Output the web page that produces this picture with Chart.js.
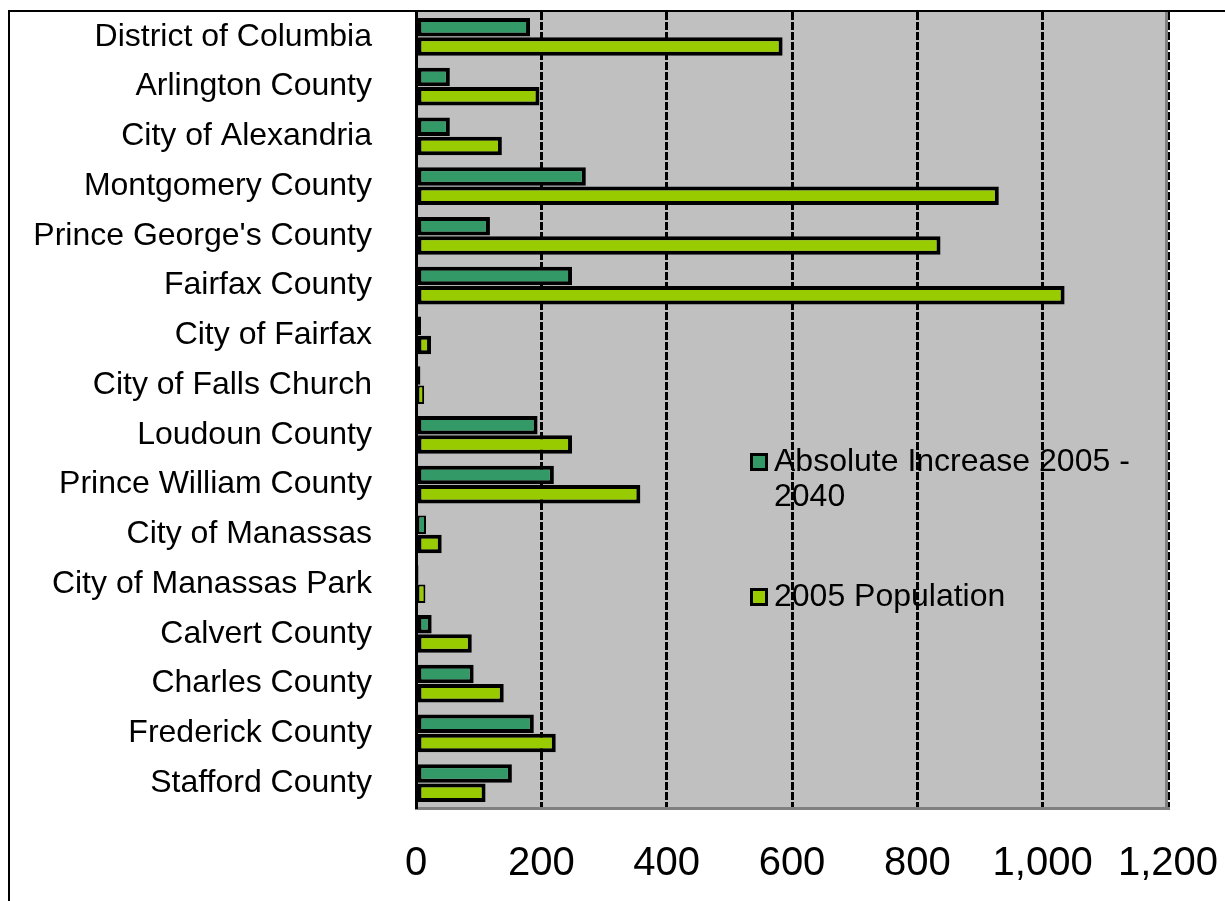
<!DOCTYPE html>
<html>
<head>
<meta charset="utf-8">
<script src="https://cdn.jsdelivr.net/npm/chart.js@4.4.0/dist/chart.umd.min.js"></script>
<style>
  html, body { margin: 0; padding: 0; background: #fff; }
  canvas { display: block; }
</style>
</head>
<body>
<canvas id="chart" width="1225" height="901"></canvas>
<script>
// ==== DATOS (miles de habitantes) ====
const jurisdictions = [
  "District of Columbia", "Arlington County", "City of Alexandria", "Montgomery County",
  "Prince George's County", "Fairfax County", "City of Fairfax", "City of Falls Church",
  "Loudoun County", "Prince William County", "City of Manassas", "City of Manassas Park",
  "Calvert County", "Charles County", "Frederick County", "Stafford County"
];
const increase = [182, 54, 54, 271, 118, 249, 8, 7, 194, 220, 16, 4, 25, 92, 188, 153];
const population2005 = [585, 197, 137, 930, 837, 1035, 24, 13, 249, 358, 41, 15, 89, 140, 223, 111];
const xTicks = [0, 200, 400, 600, 800, 1000, 1200];

const FONT = "'Liberation Sans', Arial, sans-serif";

// borde mas fino en barras muy cortas para que se vea el relleno
const barBorder = c => (c.raw !== undefined && c.raw < 20 ? 2 : 4);

// fondo gris del area y marco exterior
const framePlugin = {
  id: "frame",
  beforeDraw(chart) {
    const { ctx, chartArea: a, width, height } = chart;
    ctx.save();
    ctx.fillStyle = "#fff";
    ctx.fillRect(0, 0, width, height);
    ctx.fillStyle = "#C0C0C0";
    ctx.fillRect(a.left, a.top, a.right - a.left, a.bottom - a.top);
    ctx.strokeStyle = "#000";
    ctx.lineWidth = 2;
    ctx.beginPath();
    ctx.moveTo(9, height);
    ctx.lineTo(9, 11);
    ctx.lineTo(width, 11);
    ctx.stroke();
    ctx.restore();
  },
  beforeDatasetsDraw(chart) {
    const { ctx, chartArea: a } = chart;
    ctx.save();
    ctx.strokeStyle = "#808080";
    ctx.lineWidth = 3;
    ctx.beginPath();
    ctx.moveTo(a.right - 1.5, a.top);
    ctx.lineTo(a.right - 1.5, a.bottom + 2);
    ctx.stroke();
    ctx.restore();
  }
};

// leyenda dentro del area del grafico
const legendPlugin = {
  id: "insideLegend",
  afterDatasetsDraw(chart) {
    const { ctx, chartArea: a } = chart;
    const x0 = a.left + 334;
    const rows = [a.top + 450, a.top + 585];
    ctx.save();
    ctx.font = "32px " + FONT;
    ctx.textBaseline = "middle";
    chart.data.datasets.forEach((ds, i) => {
      const y = rows[i];
      ctx.fillStyle = ds.backgroundColor;
      ctx.fillRect(x0, y - 9, 18, 18);
      ctx.strokeStyle = "#000";
      ctx.lineWidth = 3;
      ctx.strokeRect(x0 + 1.5, y - 7.5, 15, 15);
      // ajuste de linea simple
      const words = ds.label.split(" ");
      const lines = [];
      let cur = "";
      words.forEach(w => {
        const test = cur ? cur + " " + w : w;
        if (ctx.measureText(test).width > 380 && cur) { lines.push(cur); cur = w; }
        else cur = test;
      });
      lines.push(cur);
      ctx.fillStyle = "#000";
      lines.forEach((l, k) => ctx.fillText(l, x0 + 24, y + k * 35));
    });
    ctx.restore();
  }
};

new Chart(document.getElementById("chart"), {
  type: "bar",
  data: {
    labels: jurisdictions,
    datasets: [
      { label: "Absolute Increase 2005 - 2040", data: increase, backgroundColor: "#339966",
        borderColor: "#000", borderWidth: barBorder, borderSkipped: false },
      { label: "2005 Population", data: population2005, backgroundColor: "#99CC00",
        borderColor: "#000", borderWidth: barBorder, borderSkipped: false }
    ]
  },
  options: {
    indexAxis: "y",
    responsive: false,
    animation: false,
    layout: { padding: { top: 12, right: 57, left: 0, bottom: 0 } },
    datasets: { bar: { categoryPercentage: 0.78, barPercentage: 0.95 } },
    plugins: { legend: { display: false }, tooltip: { enabled: false } },
    scales: {
      x: {
        min: 0, max: 1200,
        afterBuildTicks: s => { s.ticks = xTicks.map(v => ({ value: v })); },
        afterFit: s => { s.height = 93; s.paddingLeft = 0; s.paddingRight = 0; },
        grid: { color: "#000", lineWidth: 3, drawTicks: false },
        border: { color: "#808080", width: 3, dash: [8, 2] },
        ticks: { color: "#000", font: { family: FONT, size: 40 }, padding: 32, maxRotation: 0 }
      },
      y: {
        afterFit: s => { s.width = 416; s.paddingTop = 0; s.paddingBottom = 0; },
        grid: { display: false, drawTicks: false },
        border: { display: true, color: "#000", width: 3 },
        ticks: { color: "#000", font: { family: FONT, size: 32 }, padding: 44, autoSkip: false }
      }
    }
  },
  plugins: [framePlugin, legendPlugin]
});
</script>
</body>
</html>
